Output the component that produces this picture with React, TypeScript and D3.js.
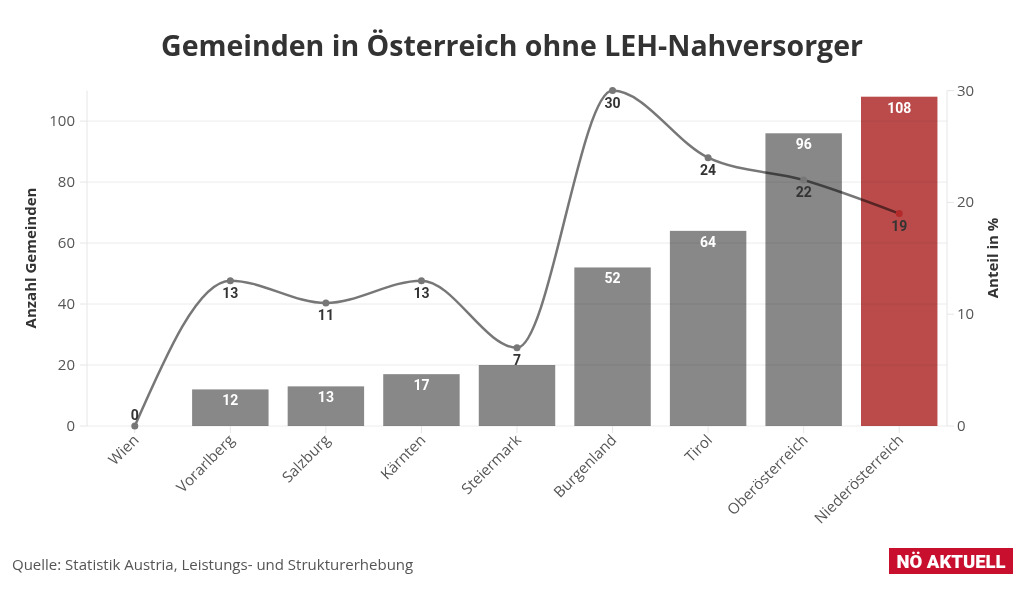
import React from "react";
import * as d3 from "d3";

const categories = ["Wien", "Vorarlberg", "Salzburg", "Kärnten", "Steiermark", "Burgenland", "Tirol", "Oberösterreich", "Niederösterreich"];
const anzahl = [0, 12, 13, 17, 20, 52, 64, 96, 108];
const anteil = [0, 13, 11, 13, 7, 30, 24, 22, 19];
const leftTicks = [0, 20, 40, 60, 80, 100];
const rightTicks = [0, 10, 20, 30];
const highlight = "Niederösterreich";

const W = 1024, H = 591;
const M = { left: 87, right: 947, top: 90.6, bottom: 426 };

export default function App() {
  const x = d3.scaleBand<string>().domain(categories).range([M.left, M.right]).paddingInner(0.2).paddingOuter(0.1);
  const yL = d3.scaleLinear().domain([0, 110]).range([M.bottom, M.top]);
  const yR = d3.scaleLinear().domain([0, 30]).range([M.bottom, M.top]);
  const cx = (c: string) => (x(c) as number) + x.bandwidth() / 2;
  const pts = categories.map((c, i) => [cx(c), yR(anteil[i])] as [number, number]);
  const linePath = d3.line().curve(d3.curveMonotoneX)(pts) as string;
  const font = "'Open Sans', sans-serif";
  const bold = "Roboto, sans-serif";

  const lineLabelY = (i: number) => (anteil[i] === 0 ? pts[i][1] - 6 : pts[i][1] + 17);
  const barLabelY = (i: number) => yL(anzahl[i]) + 16;
  // hide bar labels that collide with line labels (as the reference does)
  const barLabelVisible = (i: number) => anzahl[i] > 0 && Math.abs(barLabelY(i) - lineLabelY(i)) > 20;

  return (
    <svg width={W} height={H} style={{ position: "absolute", left: 0, top: 0, background: "#fff" }}>
      <text x={512} y={56} textAnchor="middle" fontFamily={font} fontWeight={700} fontSize={28.5} fill="#333">
        Gemeinden in Österreich ohne LEH-Nahversorger
      </text>
      {leftTicks.map((t) => (
        <line key={"g" + t} x1={M.left} x2={M.right} y1={yL(t)} y2={yL(t)} stroke="#ececec" strokeWidth={1} />
      ))}
      <line x1={M.left} x2={M.left} y1={M.top} y2={M.bottom} stroke="#e6e6e6" />
      <line x1={M.right} x2={M.right} y1={M.top} y2={M.bottom} stroke="#e6e6e6" />
      {leftTicks.map((t) => (
        <g key={"l" + t}>
          <line x1={M.left - 7} x2={M.left} y1={yL(t)} y2={yL(t)} stroke="#e6e6e6" />
          <text x={M.left - 12} y={yL(t) + 5} textAnchor="end" fontFamily={font} fontSize={15} fill="#555">{t}</text>
        </g>
      ))}
      {rightTicks.map((t) => (
        <g key={"r" + t}>
          <line x1={M.right} x2={M.right + 7} y1={yR(t)} y2={yR(t)} stroke="#e6e6e6" />
          <text x={M.right + 10} y={yR(t) + 5} textAnchor="start" fontFamily={font} fontSize={15} fill="#555">{t}</text>
        </g>
      ))}
      <text transform={`translate(36,${258}) rotate(-90)`} textAnchor="middle" fontFamily={font} fontWeight={700} fontSize={15} fill="#333">Anzahl Gemeinden</text>
      <text transform={`translate(998,${258}) rotate(-90)`} textAnchor="middle" fontFamily={font} fontWeight={700} fontSize={15} fill="#333">Anteil in %</text>
      {categories.map((c) => (
        <g key={"x" + c}>
          <line x1={cx(c)} x2={cx(c)} y1={M.bottom} y2={M.bottom + 7} stroke="#e6e6e6" />
          <text transform={`translate(${cx(c) + 5},${M.bottom + 15}) rotate(-45)`} textAnchor="end" fontFamily={font} fontSize={15} fill="#555">{c}</text>
        </g>
      ))}
      <path d={linePath} fill="none" stroke="#777" strokeWidth={2.5} />
      {categories.map((c, i) => (
        <rect key={"b" + c} x={x(c)} y={yL(anzahl[i])} width={x.bandwidth()} height={M.bottom - yL(anzahl[i])}
          fill={c === highlight ? "#bb4b4b" : "#888888"} style={{ mixBlendMode: "multiply" }} />
      ))}
      {categories.map((c, i) => barLabelVisible(i) ? (
        <text key={"bl" + c} x={cx(c)} y={barLabelY(i)} textAnchor="middle" fontFamily={bold} fontWeight={700} fontSize={14} fill="#fff">{anzahl[i]}</text>
      ) : null)}
      {categories.map((c, i) => (
        <circle key={"m" + c} cx={pts[i][0]} cy={pts[i][1]} r={3.5} fill={c === highlight ? "#b22a2a" : "#777"} />
      ))}
      {categories.map((c, i) => (
        <text key={"ml" + c} x={pts[i][0]} y={lineLabelY(i)} textAnchor="middle" fontFamily={bold} fontWeight={700} fontSize={14} fill="#333">{anteil[i]}</text>
      ))}
      <text x={12} y={570} fontFamily={font} fontSize={15} fill="#555">Quelle: Statistik Austria, Leistungs- und Strukturerhebung</text>
      <rect x={889} y={548} width={124} height={26} fill="#c8102e" />
      <text x={951} y={568} textAnchor="middle" fontFamily={bold} fontWeight={900} fontSize={18.5} fill="#fff">NÖ AKTUELL</text>
    </svg>
  );
}
